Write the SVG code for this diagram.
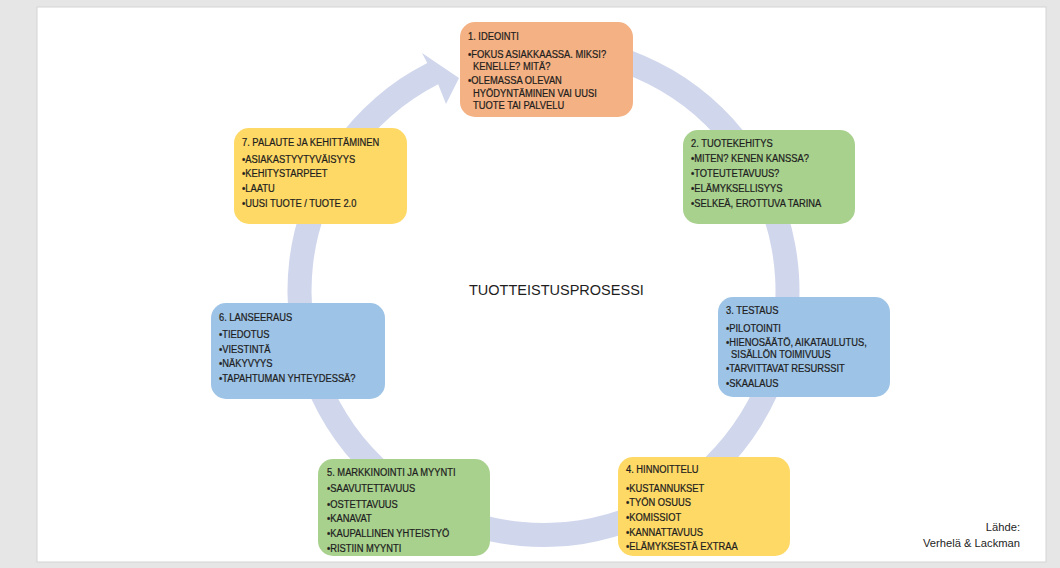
<svg xmlns="http://www.w3.org/2000/svg" width="1060" height="568" viewBox="0 0 1060 568">
<style>
.node rect{stroke:none}
.t{font-family:"Liberation Sans",Arial,sans-serif;font-size:11px;fill:#1e1e1e;stroke:#1e1e1e;stroke-width:0.25}
.c{font-family:"Liberation Sans",Arial,sans-serif;font-size:14.5px;fill:#1e1e1e}
.s{font-family:"Liberation Sans",Arial,sans-serif;font-size:11.2px;fill:#1e1e1e;text-anchor:end}
.or{fill:#f4b183}.gr{fill:#a9d18e}.bl{fill:#9dc3e6}.ye{fill:#ffd966}
</style>
<rect x="0" y="0" width="1060" height="568" fill="#e6e6e6"/>
<rect x="37" y="7" width="1009" height="555" fill="#ffffff" stroke="#d4d4d4" stroke-width="1"/>
<g id="connectors">
<path d="M521.19,35.98 A256,256 0 1 1 427.28,62.90 L422,53 L459,78 L446,104 L438.17,84.29 A232,232 0 1 0 523.28,59.88 Z" fill="#d0d6ec"/>
</g>
<g id="node1" class="node">
<rect class="or" x="460" y="22" width="173" height="95" rx="15"/>
<g transform="translate(468 0) scale(0.85 1)">
<text class="t" x="0" y="40">1. IDEOINTI</text>
<text class="t" x="0" y="58">•FOKUS ASIAKKAASSA. MIKSI?</text>
<text class="t" x="6" y="70.5">KENELLE? MITÄ?</text>
<text class="t" x="0" y="84.5">•OLEMASSA OLEVAN</text>
<text class="t" x="6" y="97.5">HYÖDYNTÄMINEN VAI UUSI</text>
<text class="t" x="6" y="109.5">TUOTE TAI PALVELU</text>
</g>
</g>
<g id="node2" class="node">
<rect class="gr" x="683" y="130" width="172" height="94" rx="15"/>
<g transform="translate(691 0) scale(0.85 1)">
<text class="t" x="0" y="147.5">2. TUOTEKEHITYS</text>
<text class="t" x="0" y="162.5">•MITEN? KENEN KANSSA?</text>
<text class="t" x="0" y="177.5">•TOTEUTETAVUUS?</text>
<text class="t" x="0" y="192.5">•ELÄMYKSELLISYYS</text>
<text class="t" x="0" y="207.5">•SELKEÄ, EROTTUVA TARINA</text>
</g>
</g>
<g id="node3" class="node">
<rect class="bl" x="718" y="297" width="172" height="100" rx="15"/>
<g transform="translate(726 0) scale(0.85 1)">
<text class="t" x="0" y="314">3. TESTAUS</text>
<text class="t" x="0" y="332">•PILOTOINTI</text>
<text class="t" x="0" y="346">•HIENOSÄÄTÖ, AIKATAULUTUS,</text>
<text class="t" x="6" y="358.5">SISÄLLÖN TOIMIVUUS</text>
<text class="t" x="0" y="372.5">•TARVITTAVAT RESURSSIT</text>
<text class="t" x="0" y="387">•SKAALAUS</text>
</g>
</g>
<g id="node4" class="node">
<rect class="ye" x="618" y="457" width="172" height="99" rx="15"/>
<g transform="translate(626 0) scale(0.85 1)">
<text class="t" x="0" y="473.5">4. HINNOITTELU</text>
<text class="t" x="0" y="492">•KUSTANNUKSET</text>
<text class="t" x="0" y="506">•TYÖN OSUUS</text>
<text class="t" x="0" y="521">•KOMISSIOT</text>
<text class="t" x="0" y="536">•KANNATTAVUUS</text>
<text class="t" x="0" y="550">•ELÄMYKSESTÄ EXTRAA</text>
</g>
</g>
<g id="node5" class="node">
<rect class="gr" x="318" y="459" width="172" height="97" rx="15"/>
<g transform="translate(327 0) scale(0.85 1)">
<text class="t" x="0" y="476">5. MARKKINOINTI JA MYYNTI</text>
<text class="t" x="0" y="492.5">•SAAVUTETTAVUUS</text>
<text class="t" x="0" y="508">•OSTETTAVUUS</text>
<text class="t" x="0" y="522.5">•KANAVAT</text>
<text class="t" x="0" y="537.5">•KAUPALLINEN YHTEISTYÖ</text>
<text class="t" x="0" y="552">•RISTIIN MYYNTI</text>
</g>
</g>
<g id="node6" class="node">
<rect class="bl" x="211" y="303" width="174" height="96" rx="15"/>
<g transform="translate(219 0) scale(0.85 1)">
<text class="t" x="0" y="321">6. LANSEERAUS</text>
<text class="t" x="0" y="338">•TIEDOTUS</text>
<text class="t" x="0" y="353">•VIESTINTÄ</text>
<text class="t" x="0" y="367">•NÄKYVYYS</text>
<text class="t" x="0" y="382.5">•TAPAHTUMAN YHTEYDESSÄ?</text>
</g>
</g>
<g id="node7" class="node">
<rect class="ye" x="234" y="128" width="173" height="96" rx="15"/>
<g transform="translate(242 0) scale(0.85 1)">
<text class="t" x="0" y="146">7. PALAUTE JA KEHITTÄMINEN</text>
<text class="t" x="0" y="163.5">•ASIAKASTYYTYVÄISYYS</text>
<text class="t" x="0" y="177.5">•KEHITYSTARPEET</text>
<text class="t" x="0" y="192">•LAATU</text>
<text class="t" x="0" y="207">•UUSI TUOTE / TUOTE 2.0</text>
</g>
</g>
<g id="title">
<text class="c" x="469" y="295">TUOTTEISTUSPROSESSI</text>
</g>
<g id="source">
<text class="s" x="1020" y="530.5">Lähde:</text>
<text class="s" x="1020" y="547">Verhelä &amp; Lackman</text>
</g>
</svg>
